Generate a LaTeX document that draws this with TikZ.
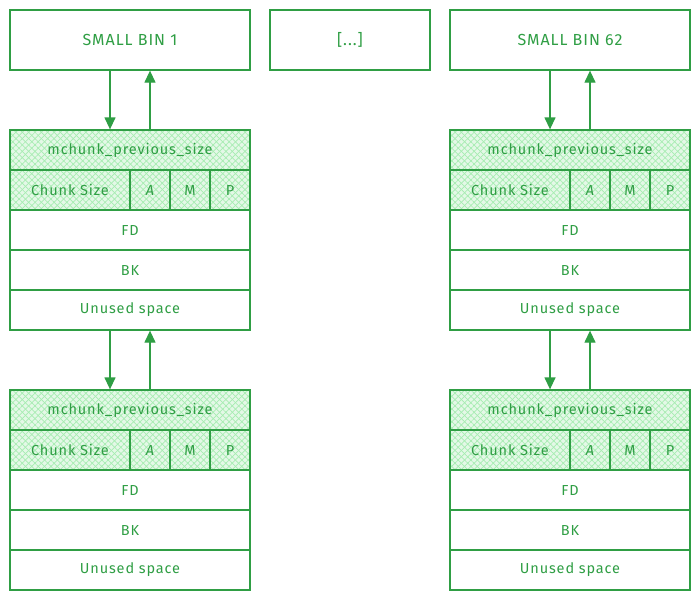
\documentclass[tikz,border=0pt]{standalone}
\usepackage{fontspec}
\setmainfont[LetterSpace=6]{Fira Sans}
\usetikzlibrary{patterns.meta,arrows.meta}
\definecolor{exgreen}{HTML}{2F9E44}
\definecolor{hatchc}{HTML}{A6EDB1}
\definecolor{hatchbg}{HTML}{E4F8E7}
\tikzset{
  cell/.style={draw=exgreen, line width=1.3pt, minimum height=40pt, inner sep=0pt,
    text=exgreen, font=\fontsize{14.5}{16}\selectfont},
  binbox/.style={cell, minimum height=60pt, font=\fontsize{16}{18}\selectfont},
  hatched/.style={preaction={fill=hatchbg},
    preaction={pattern={Lines[angle=45,distance=4.5pt,line width=0.7pt]}, pattern color=hatchc},
    preaction={pattern={Lines[angle=-45,distance=4.5pt,line width=0.7pt]}, pattern color=hatchc}},
  arr/.style={draw=exgreen, line width=1.3pt, -{Triangle[length=12pt,width=11pt]}}
}
\newcommand\mkchunk[3]{%
  \node[cell, hatched, minimum width=240pt] (#1prev) at (#2+120,#3+20) {mchunk\_previous\_size};
  \node[cell, hatched, minimum width=120pt] (#1size) at (#2+60,#3+60) {Chunk Size};
  \node[cell, hatched, minimum width=40pt] (#1A) at (#2+140,#3+60) {\itshape A};
  \node[cell, hatched, minimum width=40pt] (#1M) at (#2+180,#3+60) {M};
  \node[cell, hatched, minimum width=40pt] (#1P) at (#2+220,#3+60) {P};
  \node[cell, minimum width=240pt] (#1fd) at (#2+120,#3+100) {FD};
  \node[cell, minimum width=240pt] (#1bk) at (#2+120,#3+140) {BK};
  \node[cell, minimum width=240pt] (#1un) at (#2+120,#3+180) {Unused space};
}
\begin{document}
\begin{tikzpicture}[x=1pt,y=-1pt]
\useasboundingbox (0,0) rectangle (700,600);
\node[binbox, minimum width=240pt] (binA) at (130,40) {SMALL BIN 1};
\node[binbox, minimum width=160pt] (dots) at (350,40) {[...]};
\node[binbox, minimum width=240pt] (binB) at (570,40) {SMALL BIN 62};
\mkchunk{la}{10}{130}
\mkchunk{lb}{10}{390}
\mkchunk{ra}{450}{130}
\mkchunk{rb}{450}{390}
\draw[arr] ([xshift=-20pt]binA.south) -- ([xshift=-20pt]laprev.north);
\draw[arr] ([xshift=20pt]laprev.north) -- ([xshift=20pt]binA.south);
\draw[arr] ([xshift=-20pt]laun.south) -- ([xshift=-20pt]lbprev.north);
\draw[arr] ([xshift=20pt]lbprev.north) -- ([xshift=20pt]laun.south);
\draw[arr] ([xshift=-20pt]binB.south) -- ([xshift=-20pt]raprev.north);
\draw[arr] ([xshift=20pt]raprev.north) -- ([xshift=20pt]binB.south);
\draw[arr] ([xshift=-20pt]raun.south) -- ([xshift=-20pt]rbprev.north);
\draw[arr] ([xshift=20pt]rbprev.north) -- ([xshift=20pt]raun.south);
\end{tikzpicture}
\end{document}
